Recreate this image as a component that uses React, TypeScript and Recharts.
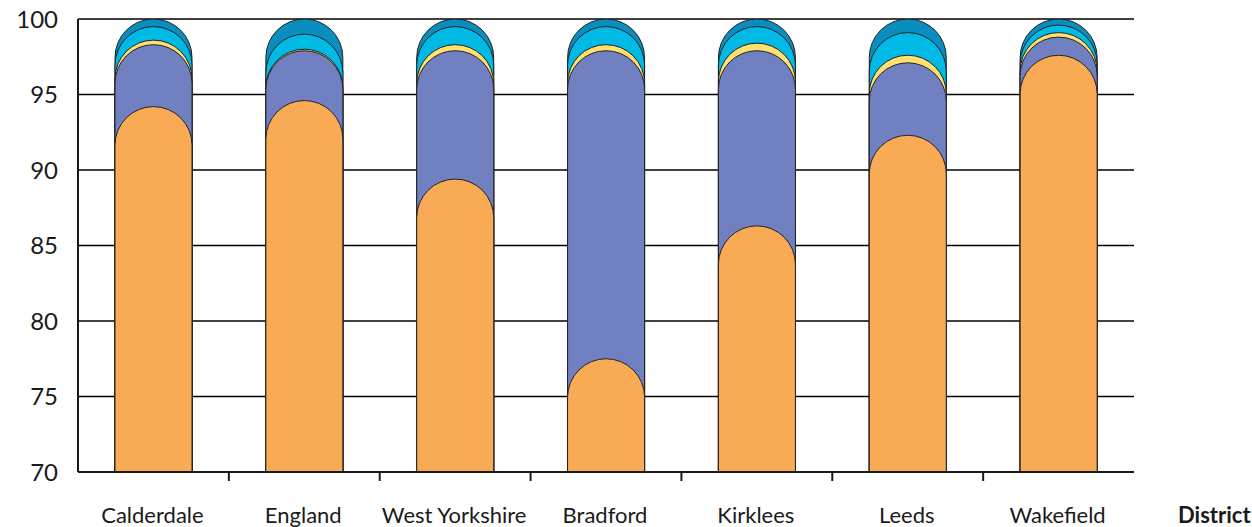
import { Bar, BarChart, CartesianGrid, XAxis, YAxis } from 'recharts';

// Share of population (%) per district, bottom segment first.
const DISTRICTS = ['Calderdale', 'England', 'West Yorkshire', 'Bradford', 'Kirklees', 'Leeds', 'Wakefield'];
const ORANGE_SHARE = [94.2, 94.6, 89.4, 77.5, 86.3, 92.3, 97.6];
const PURPLE_SHARE = [4.1, 3.3, 8.5, 20.4, 11.6, 4.8, 1.2];
const YELLOW_SHARE = [0.3, 0.1, 0.4, 0.4, 0.5, 0.5, 0.3];
const CYAN_SHARE = [0.9, 1.0, 1.2, 1.2, 1.1, 1.5, 0.5];
const BLUE_SHARE = [0.5, 1.0, 0.5, 0.5, 0.5, 0.9, 0.4];
const Y_TICKS = [70, 75, 80, 85, 90, 95, 100];
const AXIS_TITLE = 'District';

const WIDTH = 1252;
const HEIGHT = 527;
const MARGIN = { top: 19, right: 118, bottom: 0, left: 8 };
const Y_AXIS_WIDTH = 70;
const PLOT_WIDTH = WIDTH - MARGIN.left - MARGIN.right - Y_AXIS_WIDTH;
const HALF_BAND = PLOT_WIDTH / DISTRICTS.length / 2;
const BAR_SIZE = 77;
const FONT = 'Lato, "Open Sans", sans-serif';
const INK = '#1a1a1a';

// Each layer is drawn from the baseline up to its running total, so the
// rounded caps overlap the way the original does.
const rows = DISTRICTS.map((district, i) => {
  const l1 = ORANGE_SHARE[i];
  const l2 = l1 + PURPLE_SHARE[i];
  const l3 = l2 + YELLOW_SHARE[i];
  const l4 = l3 + CYAN_SHARE[i];
  const l5 = l4 + BLUE_SHARE[i];
  return { district, l1, l2, l3, l4, l5 };
});

// back to front
const LAYERS = [
  { key: 'l5', fill: '#0a8dbf' },
  { key: 'l4', fill: '#00b9e4' },
  { key: 'l3', fill: '#ffe070' },
  { key: 'l2', fill: '#7080c0' },
  { key: 'l1', fill: '#f9aa55' },
];

function DistrictTick(props: any) {
  const { x, y, payload, index } = props;
  return (
    <g>
      {index < DISTRICTS.length - 1 ? (
        <line x1={x + HALF_BAND} x2={x + HALF_BAND} y1={y} y2={y + 9} stroke={INK} strokeWidth={2} />
      ) : null}
      <text x={x - 1} y={y + 51} textAnchor="middle" fill={INK} fontSize={22} fontFamily={FONT}>
        {payload.value}
      </text>
    </g>
  );
}

function AxisTitle(props: any) {
  const { viewBox } = props;
  return (
    <text
      x={viewBox.x + viewBox.width + 44}
      y={viewBox.y + 51}
      fill={INK}
      fontSize={22}
      fontWeight={700}
      fontFamily={FONT}
    >
      {AXIS_TITLE}
    </text>
  );
}

export default function App() {
  return (
    <div style={{ position: 'absolute', left: 0, top: 0, background: '#fff' }}>
      <BarChart
        width={WIDTH}
        height={HEIGHT}
        data={rows}
        margin={MARGIN}
        barSize={BAR_SIZE}
        barGap={-BAR_SIZE}
      >
        <CartesianGrid vertical={false} stroke="#000" strokeWidth={1.3} />
        <XAxis
          dataKey="district"
          interval={0}
          height={55}
          tickSize={0}
          tickMargin={0}
          tickLine={false}
          axisLine={{ stroke: INK, strokeWidth: 2 }}
          tick={(p: any) => <DistrictTick {...p} />}
          label={{ content: (p: any) => <AxisTitle {...p} /> }}
        />
        <YAxis
          width={Y_AXIS_WIDTH}
          domain={[70, 100]}
          ticks={Y_TICKS}
          allowDataOverflow
          tickLine={false}
          tickSize={6}
          tickMargin={14}
          axisLine={{ stroke: INK, strokeWidth: 2 }}
          tick={{ fill: INK, fontSize: 24, fontFamily: FONT }}
        />
        {LAYERS.map((layer) => (
          <Bar
            key={layer.key}
            dataKey={layer.key}
            fill={layer.fill}
            stroke="#222"
            strokeWidth={1}
            radius={[BAR_SIZE / 2, BAR_SIZE / 2, 0, 0]}
            isAnimationActive={false}
          />
        ))}
      </BarChart>
    </div>
  );
}
